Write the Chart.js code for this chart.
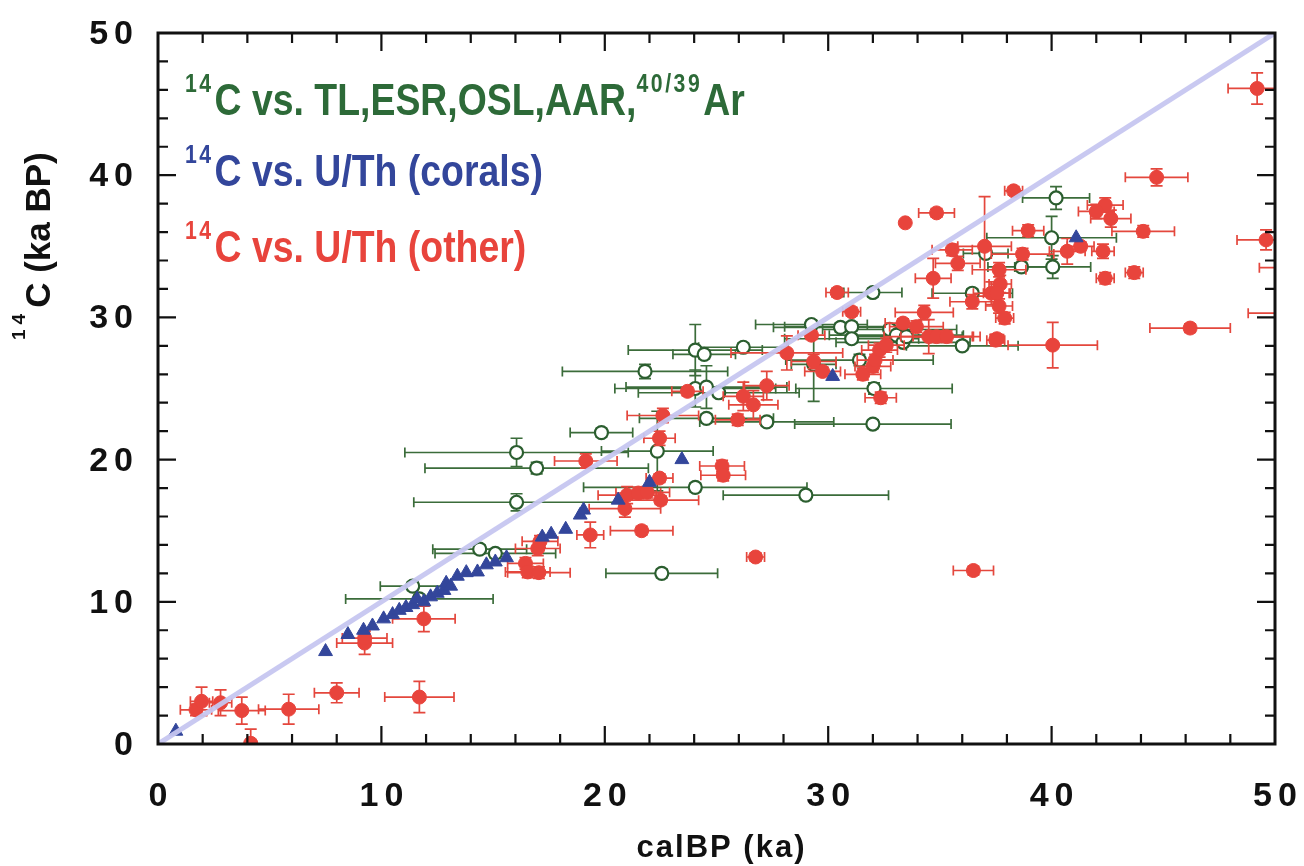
<!DOCTYPE html>
<html>
<head>
<meta charset="utf-8">
<script src="https://cdn.jsdelivr.net/npm/chart.js@4.4.1/dist/chart.umd.min.js"></script>
<style>
  body { margin: 0; background: #fff; }
  canvas { display: block; }
</style>
</head>
<body>
<canvas id="calChart" width="1304" height="866"></canvas>
<script>
// axis labels
const xTickValues = [0, 10, 20, 30, 40, 50];
const xTickLabels = ['0', '10', '20', '30', '40', '50'];
const yTickValues = [0, 10, 20, 30, 40, 50];
const yTickLabels = ['0', '10', '20', '30', '40', '50'];

// 1:1 reference line
const oneToOneX = [0, 50];
const oneToOneY = [0, 50];

// 14C vs. TL, ESR, OSL, AAR, 40/39Ar : [calBP ka, 14C ka, ±calBP, ±14C]
const otherMethods = [
  [11.4, 11.1, 1.45, 0.3], [11.7, 10.2, 3.3, 0.3], [14.4, 13.7, 2.1, 0.3], [15.1, 13.4, 2.7, 0.3],
  [16.05, 20.5, 5.0, 1.0], [16.95, 19.4, 5.0, 0.4], [16.05, 17.0, 4.6, 0.6], [19.85, 21.9, 1.4, 0.3],
  [22.35, 20.6, 2.5, 2.8], [24.05, 18.05, 5.0, 0.3], [22.55, 12.0, 2.5, 0.3], [29.0, 17.5, 3.7, 0.3],
  [21.8, 26.2, 3.7, 0.5], [24.05, 27.7, 3.0, 1.8], [24.45, 27.4, 1.4, 0.3], [26.2, 27.9, 2.0, 0.3],
  [24.05, 25.0, 3.6, 1.3], [24.55, 25.1, 3.6, 1.5], [25.1, 24.7, 3.6, 0.3], [24.55, 22.9, 3.0, 0.3],
  [27.25, 22.65, 3.0, 0.3], [32.0, 22.5, 3.5, 0.3], [32.05, 25.0, 3.5, 0.4], [31.4, 27.0, 3.3, 0.4],
  [29.35, 26.7, 1.0, 2.6], [32.0, 31.75, 1.3, 0.3], [36.45, 31.7, 1.8, 0.3], [29.25, 29.5, 2.5, 0.3],
  [30.55, 29.3, 3.0, 0.3], [31.05, 29.35, 3.0, 0.3], [31.05, 28.5, 3.0, 0.3], [32.75, 29.15, 3.0, 0.3],
  [33.05, 28.75, 3.0, 0.3], [33.35, 28.25, 3.0, 0.3], [33.5, 28.65, 2.5, 0.3], [36.0, 28.0, 2.5, 0.3],
  [37.05, 34.5, 1.0, 0.3], [40.2, 38.4, 1.5, 0.8], [40.0, 35.6, 2.9, 1.5], [38.65, 33.55, 1.5, 0.3],
  [40.05, 33.55, 1.7, 0.8]
];

// 14C vs. U/Th, corals : [calBP ka, 14C ka]
const corals = [
  [0.8, 0.9], [7.5, 6.5], [8.5, 7.7], [9.2, 8.0], [9.6, 8.3], [10.1, 8.8], [10.5, 9.1], [10.8, 9.4],
  [11.1, 9.6], [11.4, 9.8], [11.6, 10.2], [11.9, 10.0], [12.2, 10.35], [12.5, 10.6], [12.8, 10.8],
  [12.9, 11.3], [13.1, 11.1], [13.4, 11.8], [13.8, 12.05], [14.3, 12.1], [14.7, 12.6], [15.1, 12.8],
  [15.6, 13.1], [17.2, 14.55], [17.6, 14.75], [18.25, 15.1], [18.9, 16.1], [19.05, 16.45],
  [20.6, 17.15], [22.0, 18.4], [23.45, 20.0], [30.2, 25.85], [41.1, 35.6]
];

// 14C vs. U/Th, other archives : [calBP ka, 14C ka, ±calBP, ±14C]
const uthOther = [
  [1.7, 2.4, 0.7, 0.4], [1.95, 3.0, 0.5, 1.0], [2.8, 2.9, 0.5, 0.9], [3.75, 2.35, 1.05, 0.95],
  [5.85, 2.45, 1.35, 1.05], [4.15, 0.05, 0, 1.0], [8.0, 3.6, 1.0, 0.7], [11.7, 3.3, 1.55, 1.1],
  [9.25, 7.1, 1.25, 0.8], [9.25, 7.45, 1.0, 0.5], [11.9, 8.8, 1.4, 0.9],
  [16.45, 12.7, 0.8, 0.4], [16.55, 12.1, 1.0, 0.4], [17.05, 12.05, 1.4, 0.4], [17.0, 13.75, 1.0, 0.5],
  [17.1, 14.25, 0.8, 0.4], [19.35, 14.7, 0.6, 0.9], [21.65, 15.0, 1.4, 0.3], [26.75, 13.15, 0.4, 0.3],
  [36.5, 12.2, 0.9, 0.3], [20.9, 16.55, 1.6, 0.6], [21.0, 17.5, 1.3, 0.6], [21.5, 17.65, 1.0, 0.4],
  [21.9, 17.7, 1.0, 0.4], [22.5, 17.15, 1.7, 0.3], [22.45, 18.7, 0.6, 0.3], [19.15, 19.9, 1.4, 0.5],
  [22.45, 21.5, 0.7, 0.5], [22.6, 23.1, 1.6, 0.5], [25.25, 19.55, 1.0, 0.4], [25.3, 18.9, 1.0, 0.4],
  [23.7, 24.8, 0.7, 0.3], [26.2, 24.45, 0.9, 1.0], [26.65, 23.85, 1.1, 1.0], [25.95, 22.8, 1.0, 0.4],
  [27.25, 25.2, 1.0, 1.0], [28.15, 27.5, 2.5, 1.2], [29.25, 28.75, 0.6, 0.3], [29.35, 26.9, 1.0, 0.5],
  [29.75, 26.2, 0.8, 0.3], [30.4, 31.75, 0.5, 0.3], [31.05, 30.4, 0.4, 0.3], [31.55, 26.0, 0.8, 0.4],
  [32.0, 26.55, 0.8, 0.4], [32.1, 27.0, 0.8, 0.4], [32.3, 27.7, 0.8, 0.5], [32.6, 28.05, 0.8, 0.5],
  [32.35, 24.35, 0.7, 0.4], [33.35, 29.6, 0.8, 0.3], [33.95, 29.35, 1.2, 0.4], [34.3, 30.35, 1.3, 0.5],
  [34.5, 28.65, 2.0, 1.2], [34.85, 28.65, 1.6, 0.4], [35.3, 28.65, 1.5, 0.4], [37.55, 28.5, 0.3, 0.3],
  [34.7, 32.75, 0.8, 1.4], [35.55, 34.75, 0.9, 0.4], [35.8, 33.8, 1.0, 0.5], [37.0, 35.0, 1.2, 3.5],
  [36.45, 31.1, 1.0, 0.5], [37.65, 33.35, 1.2, 0.5], [37.7, 32.35, 0.5, 0.6], [37.3, 31.7, 0.8, 0.8],
  [37.55, 31.7, 0.6, 0.6], [37.65, 30.8, 0.6, 0.5], [37.9, 29.95, 0.4, 0.4], [37.5, 28.4, 0.4, 0.4],
  [38.3, 38.9, 0.4, 0.3], [34.85, 37.35, 0.8, 0.3], [33.45, 36.65, 0, 0], [38.95, 36.1, 0.7, 0.4],
  [38.7, 34.45, 1.4, 0.4], [40.7, 34.65, 0.8, 0.9], [41.3, 35.0, 0.6, 0.3], [42.3, 34.65, 0.5, 0.5],
  [42.4, 32.75, 0.4, 0.4], [43.7, 33.15, 0.4, 0.4], [42.4, 37.9, 0.8, 0.5], [42.0, 37.45, 0.8, 0.5],
  [42.65, 36.95, 0.9, 0.6], [44.1, 36.05, 1.4, 0.4], [44.7, 39.85, 1.4, 0.6], [49.2, 46.1, 1.3, 1.1],
  [49.6, 35.45, 1.3, 0.7], [50.3, 33.5, 1.0, 0.8], [51.5, 30.3, 2.7, 0], [46.2, 29.25, 1.8, 0.3],
  [40.05, 28.05, 2.0, 1.6]
];

const GREEN = '#2d6a38';
const BLUE = '#33469b';
const RED = '#e8443c';

function toPoints(rows) {
  return rows.map(r => ({ x: r[0], y: r[1] }));
}

// draw text char by char with extra tracking, returns end x
function drawSpaced(ctx, str, x, y, sp) {
  for (const ch of str) {
    ctx.fillText(ch, x, y);
    x += ctx.measureText(ch).width + sp;
  }
  return x - sp;
}
function spacedWidth(ctx, str, sp) {
  let w = 0;
  for (const ch of str) w += ctx.measureText(ch).width + sp;
  return w - sp;
}

// text runs with superscripts, e.g. 14C
function drawRuns(ctx, runs, x, y, st) {
  let cx = x;
  runs.forEach(([txt, sup]) => {
    ctx.font = sup ? st.supFont : st.font;
    cx = drawSpaced(ctx, txt, cx, sup ? y - st.rise : y, sup ? st.supSp : st.sp);
    cx += sup ? st.supGap : st.sp;
  });
}

const errorBars = {
  id: 'errorBars',
  beforeDatasetDraw(chart, args) {
    const ds = chart.data.datasets[args.index];
    if (!ds.errors) return;
    const { ctx, chartArea: a, scales: { x, y } } = chart;
    ctx.save();
    ctx.beginPath();
    ctx.rect(a.left, a.top, a.right - a.left, a.bottom - a.top);
    ctx.clip();
    ctx.strokeStyle = ds.errorColor;
    ctx.lineWidth = 1.7;
    ds.errors.forEach(([cx, cy, ex, ey]) => {
      const px = x.getPixelForValue(cx);
      const py = y.getPixelForValue(cy);
      ctx.beginPath();
      if (ex > 0) {
        const l = x.getPixelForValue(cx - ex), r = x.getPixelForValue(cx + ex);
        ctx.moveTo(l, py); ctx.lineTo(r, py);
        ctx.moveTo(l, py - 5); ctx.lineTo(l, py + 5);
        ctx.moveTo(r, py - 5); ctx.lineTo(r, py + 5);
      }
      if (ey > 0) {
        const t = y.getPixelForValue(cy + ey), b = y.getPixelForValue(cy - ey);
        ctx.moveTo(px, t); ctx.lineTo(px, b);
        ctx.moveTo(px - 6, t); ctx.lineTo(px + 6, t);
        ctx.moveTo(px - 6, b); ctx.lineTo(px + 6, b);
      }
      ctx.stroke();
    });
    ctx.restore();
  }
};

const frame = {
  id: 'frame',
  afterDraw(chart) {
    const { ctx, chartArea: a, scales: { x, y } } = chart;
    ctx.save();
    ctx.strokeStyle = '#111';
    ctx.lineWidth = 3;
    ctx.strokeRect(a.left, a.top, a.right - a.left, a.bottom - a.top);

    // inward ticks on all four sides, minor every 2 ka
    ctx.lineWidth = 2.2;
    ctx.beginPath();
    for (let v = 2; v < 50; v += 2) {
      const len = v % 10 === 0 ? 18 : 10;
      const px = x.getPixelForValue(v), py = y.getPixelForValue(v);
      ctx.moveTo(px, a.bottom); ctx.lineTo(px, a.bottom - len);
      ctx.moveTo(px, a.top); ctx.lineTo(px, a.top + len);
      ctx.moveTo(a.left, py); ctx.lineTo(a.left + len, py);
      ctx.moveTo(a.right, py); ctx.lineTo(a.right - len, py);
    }
    ctx.stroke();

    // tick labels
    ctx.fillStyle = '#111';
    ctx.font = 'bold 34px "Liberation Sans", Arial, sans-serif';
    ctx.textBaseline = 'alphabetic';
    ctx.textAlign = 'left';
    const sp = 6;
    xTickValues.forEach((v, i) => {
      const w = spacedWidth(ctx, xTickLabels[i], sp);
      drawSpaced(ctx, xTickLabels[i], x.getPixelForValue(v) - w / 2, 806, sp);
    });
    yTickValues.forEach((v, i) => {
      const w = spacedWidth(ctx, yTickLabels[i], sp);
      drawSpaced(ctx, yTickLabels[i], 133 - w, y.getPixelForValue(v) + 11, sp);
    });

    // x title
    ctx.font = 'bold 31px "Liberation Sans", Arial, sans-serif';
    const xt = 'calBP (ka)';
    const xw = spacedWidth(ctx, xt, 2);
    drawSpaced(ctx, xt, (a.left + a.right) / 2 - xw / 2 + 4, 857, 2);

    // y title, rotated
    ctx.save();
    ctx.translate(50, 340);
    ctx.rotate(-Math.PI / 2);
    drawRuns(ctx, [['14', true], ['C (ka BP)', false]], 0, 0, {
      font: 'bold 35px "Liberation Sans", Arial, sans-serif',
      supFont: 'bold 19px "Liberation Sans", Arial, sans-serif',
      rise: 25, sp: 0, supSp: 5, supGap: 6
    });
    ctx.restore();

    // series key
    const keyStyle = {
      font: 'bold 44px "Liberation Sans", Arial, sans-serif',
      supFont: 'bold 25px "Liberation Sans", Arial, sans-serif',
      rise: 23, sp: 0, supSp: 3, supGap: 4
    };
    const rows = [
      [GREEN, 115, [['14', true], ['C vs. TL,ESR,OSL,AAR,', false], ['40/39', true], ['Ar', false]]],
      [BLUE, 186, [['14', true], ['C vs. U/Th (corals)', false]]],
      [RED, 262, [['14', true], ['C vs. U/Th (other)', false]]]
    ];
    rows.forEach(([color, base, runs]) => {
      ctx.save();
      ctx.fillStyle = color;
      ctx.translate(185, base);
      ctx.scale(0.85, 1);
      drawRuns(ctx, runs, 0, 0, keyStyle);
      ctx.restore();
    });
    ctx.restore();
  }
};

new Chart(document.getElementById('calChart'), {
  type: 'scatter',
  data: {
    datasets: [
      {
        label: '1:1',
        data: oneToOneX.map((v, i) => ({ x: v, y: oneToOneY[i] })),
        showLine: true,
        borderColor: 'rgba(198, 198, 240, 0.95)',
        borderWidth: 5,
        pointRadius: 0
      },
      {
        label: '14C vs. U/Th (corals)',
        data: toPoints(corals),
        pointStyle: 'triangle',
        pointRadius: 8,
        backgroundColor: BLUE,
        borderColor: BLUE,
        borderWidth: 1
      },
      {
        label: '14C vs. U/Th (other)',
        data: toPoints(uthOther),
        errors: uthOther,
        errorColor: '#e4473d',
        pointRadius: 7,
        backgroundColor: RED,
        borderColor: RED,
        borderWidth: 1
      },
      {
        label: '14C vs. TL,ESR,OSL,AAR,40/39Ar',
        data: toPoints(otherMethods),
        errors: otherMethods,
        errorColor: '#3b6c3a',
        pointRadius: 6.5,
        backgroundColor: '#ffffff',
        borderColor: '#2b5e2f',
        borderWidth: 2.2
      }
    ]
  },
  options: {
    responsive: false,
    devicePixelRatio: 1,
    animation: false,
    layout: { padding: { left: 158, right: 29, top: 33, bottom: 122 } },
    scales: {
      x: { type: 'linear', min: 0, max: 50, display: false },
      y: { type: 'linear', min: 0, max: 50, display: false }
    },
    plugins: {
      legend: { display: false },
      tooltip: { enabled: false }
    }
  },
  plugins: [errorBars, frame]
});
</script>
</body>
</html>
